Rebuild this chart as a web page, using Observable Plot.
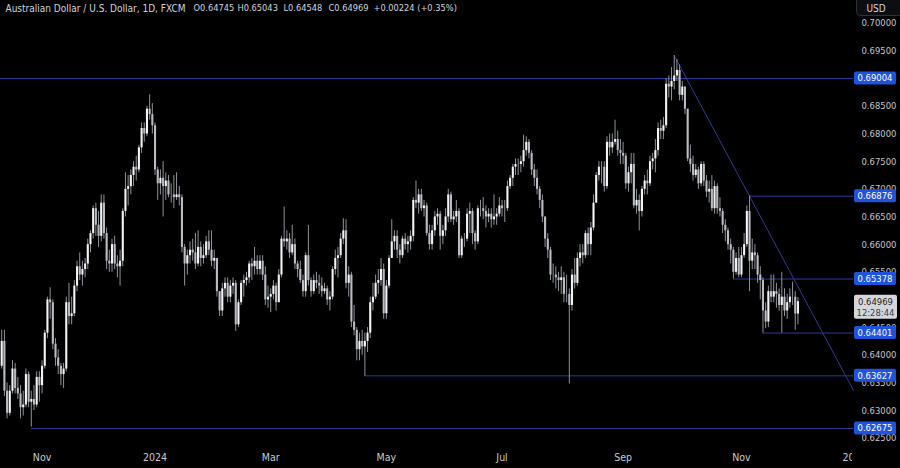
<!DOCTYPE html>
<html><head><meta charset="utf-8">
<script src="https://cdn.jsdelivr.net/npm/d3@7"></script>
<script src="https://cdn.jsdelivr.net/npm/@observablehq/plot@0.6"></script>
<style>
html,body{margin:0;padding:0;background:#000;}
#chart{width:900px;height:468px;overflow:hidden;}
</style></head><body><div id="chart"></div>
<script>
// ---- data (AUD/USD daily, FXCM) ----
const symbolName = "Australian Dollar / U.S. Dollar, 1D, FXCM";
const firstDate = "2023-10-11";
const firstOpen = 0.6380;
const closes = [
0.6425,0.6335,0.6295,0.6335,0.6375,0.6340,0.6330,0.6305,0.6310,0.6365,
0.6315,0.6320,0.6310,0.6360,0.6345,0.6380,0.6440,0.6500,0.6495,0.6420,
0.6395,0.6380,0.6365,0.6375,0.6495,0.6470,0.6475,0.6525,0.6560,0.6545,
0.6555,0.6565,0.6600,0.6620,0.6665,0.6635,0.6615,0.6675,0.6620,0.6570,
0.6565,0.6600,0.6565,0.6560,0.6570,0.6660,0.6700,0.6705,0.6725,0.6740,
0.6735,0.6775,0.6810,0.6800,0.6845,0.6835,0.6815,0.6735,0.6710,0.6720,
0.6705,0.6715,0.6690,0.6690,0.6685,0.6690,0.6685,0.6595,0.6565,0.6580,
0.6590,0.6585,0.6565,0.6595,0.6575,0.6580,0.6605,0.6590,0.6570,0.6575,
0.6515,0.6480,0.6520,0.6530,0.6505,0.6525,0.6530,0.6455,0.6495,0.6530,
0.6535,0.6540,0.6565,0.6560,0.6570,0.6555,0.6570,0.6545,0.6500,0.6505,
0.6510,0.6525,0.6495,0.6545,0.6610,0.6605,0.6610,0.6585,0.6600,0.6565,
0.6555,0.6535,0.6515,0.6580,0.6535,0.6515,0.6535,0.6530,0.6525,0.6515,
0.6520,0.6500,0.6505,0.6555,0.6575,0.6580,0.6610,0.6625,0.6530,0.6545,
0.6460,0.6445,0.6410,0.6425,0.6415,0.6425,0.6440,0.6495,0.6505,0.6530,
0.6535,0.6555,0.6475,0.6525,0.6575,0.6605,0.6615,0.6590,0.6580,0.6610,
0.6600,0.6605,0.6615,0.6680,0.6675,0.6690,0.6665,0.6670,0.6620,0.6600,
0.6625,0.6650,0.6655,0.6615,0.6625,0.6650,0.6690,0.6645,0.6650,0.6660,
0.6580,0.6610,0.6610,0.6655,0.6660,0.6620,0.6605,0.6665,0.6665,0.6660,
0.6650,0.6655,0.6645,0.6650,0.6655,0.6670,0.6665,0.6665,0.6705,0.6720,
0.6740,0.6745,0.6745,0.6750,0.6770,0.6785,0.6765,0.6735,0.6720,0.6700,
0.6680,0.6650,0.6610,0.6590,0.6545,0.6545,0.6540,0.6535,0.6540,0.6510,
0.6510,0.6490,0.6545,0.6530,0.6575,0.6585,0.6580,0.6620,0.6600,0.6630,
0.6675,0.6725,0.6740,0.6740,0.6705,0.6785,0.6775,0.6785,0.6790,0.6770,
0.6765,0.6760,0.6710,0.6730,0.6745,0.6670,0.6680,0.6660,0.6700,0.6715,
0.6710,0.6750,0.6755,0.6770,0.6810,0.6805,0.6815,0.6890,0.6885,0.6895,
0.6905,0.6915,0.6870,0.6885,0.6845,0.6755,0.6745,0.6725,0.6735,0.6710,
0.6745,0.6715,0.6695,0.6700,0.6665,0.6705,0.6665,0.6660,0.6635,0.6625,
0.6600,0.6590,0.6550,0.6575,0.6545,0.6580,0.6600,0.6660,0.6570,0.6585,
0.6580,0.6545,0.6535,0.6480,0.6460,0.6515,0.6505,0.6515,0.6510,0.6490,
0.6505,0.6480,0.6495,0.6505,0.6505,0.64745,0.64969];
const highs = [
0.6445,0.6445,0.6350,0.6345,0.6390,0.6385,0.6360,0.6345,0.6335,0.6375,
0.6370,0.6335,0.6345,0.6370,0.6370,0.6390,0.6445,0.6505,0.6522,0.6500,
0.6430,0.6410,0.6385,0.6385,0.6505,0.6530,0.6505,0.6535,0.6570,0.6585,
0.6570,0.6575,0.6610,0.6625,0.6670,0.6675,0.6660,0.6690,0.6690,0.6630,
0.6590,0.6610,0.6615,0.6580,0.6590,0.6665,0.6730,0.6725,0.6735,0.6750,
0.6760,0.6780,0.6820,0.6820,0.6850,0.6871,0.6855,0.6820,0.6740,0.6735,
0.6750,0.6730,0.6725,0.6710,0.6725,0.6730,0.6705,0.6690,0.6600,0.6590,
0.6605,0.6610,0.6620,0.6625,0.6605,0.6600,0.6615,0.6625,0.6625,0.6590,
0.6575,0.6515,0.6530,0.6540,0.6540,0.6535,0.6540,0.6535,0.6500,0.6535,
0.6545,0.6550,0.6570,0.6575,0.6595,0.6580,0.6580,0.6580,0.6560,0.6525,
0.6520,0.6535,0.6530,0.6555,0.6615,0.6668,0.6625,0.6620,0.6635,0.6610,
0.6570,0.6570,0.6545,0.6585,0.6635,0.6540,0.6545,0.6550,0.6545,0.6540,
0.6530,0.6525,0.6515,0.6560,0.6590,0.6595,0.6620,0.6647,0.6645,0.6560,
0.6550,0.6490,0.6450,0.6440,0.6445,0.6440,0.6450,0.6505,0.6530,0.6545,
0.6555,0.6575,0.6565,0.6535,0.6580,0.6645,0.6625,0.6625,0.6600,0.6615,
0.6620,0.6615,0.6625,0.6685,0.6715,0.6700,0.6700,0.6680,0.6675,0.6635,
0.6635,0.6660,0.6665,0.6660,0.6635,0.6665,0.6700,0.6695,0.6660,0.6680,
0.6665,0.6615,0.6620,0.6665,0.6675,0.6665,0.6625,0.6670,0.6680,0.6685,
0.6670,0.6665,0.6665,0.6690,0.6665,0.6685,0.6680,0.6680,0.6715,0.6725,
0.6745,0.6755,0.6755,0.6760,0.6798,0.6795,0.6790,0.6770,0.6745,0.6735,
0.6705,0.6690,0.6650,0.6620,0.6595,0.6565,0.6560,0.6550,0.6560,0.6550,
0.6545,0.6520,0.6555,0.6575,0.6585,0.6600,0.6600,0.6625,0.6630,0.6640,
0.6690,0.6730,0.6750,0.6750,0.6750,0.6795,0.6800,0.6800,0.6825,0.6805,
0.6790,0.6785,0.6765,0.6740,0.6765,0.6765,0.6700,0.6690,0.6705,0.6725,
0.6735,0.6760,0.6765,0.6790,0.6820,0.6825,0.6830,0.6900,0.6905,0.6920,
0.6942,0.6935,0.6925,0.6895,0.6885,0.6845,0.6780,0.6760,0.6745,0.6740,
0.6750,0.6750,0.6725,0.6715,0.6725,0.6715,0.6710,0.6685,0.6665,0.6645,
0.6630,0.6610,0.6595,0.6585,0.6595,0.6595,0.6620,0.6670,0.6688,0.6610,
0.6600,0.6585,0.6560,0.6540,0.6495,0.6525,0.6545,0.6545,0.6530,0.6520,
0.6550,0.6520,0.6510,0.6520,0.6532,0.6515,0.65043];
const lows = [
0.6375,0.6325,0.6285,0.6290,0.6330,0.6330,0.6320,0.6285,0.6290,0.6305,
0.6305,0.6270,0.6300,0.6305,0.6315,0.6330,0.6375,0.6430,0.6465,0.6410,
0.6380,0.6365,0.6345,0.6340,0.6370,0.6455,0.6455,0.6470,0.6515,0.6535,
0.6525,0.6540,0.6555,0.6585,0.6610,0.6615,0.6595,0.6605,0.6610,0.6555,
0.6550,0.6550,0.6555,0.6540,0.6525,0.6560,0.6650,0.6670,0.6690,0.6705,
0.6715,0.6730,0.6765,0.6785,0.6795,0.6825,0.6800,0.6725,0.6680,0.6690,
0.6650,0.6680,0.6685,0.6675,0.6665,0.6680,0.6670,0.6585,0.6525,0.6545,
0.6565,0.6570,0.6555,0.6560,0.6560,0.6565,0.6575,0.6580,0.6560,0.6555,
0.6505,0.6470,0.6470,0.6505,0.6495,0.6495,0.6510,0.6443,0.6450,0.6490,
0.6505,0.6525,0.6530,0.6535,0.6545,0.6545,0.6545,0.6535,0.6490,0.6485,
0.6477,0.6500,0.6480,0.6495,0.6540,0.6595,0.6590,0.6575,0.6580,0.6555,
0.6540,0.6530,0.6505,0.6505,0.6525,0.6505,0.6510,0.6520,0.6510,0.6505,
0.6510,0.6490,0.6480,0.6500,0.6545,0.6540,0.6575,0.6600,0.6520,0.6505,
0.6450,0.6435,0.6390,0.6390,0.6400,0.6362,0.6405,0.6430,0.6480,0.6500,
0.6510,0.6525,0.6465,0.6465,0.6520,0.6575,0.6590,0.6575,0.6565,0.6575,
0.6590,0.6585,0.6590,0.6605,0.6665,0.6655,0.6660,0.6650,0.6615,0.6590,
0.6590,0.6615,0.6635,0.6590,0.6600,0.6615,0.6640,0.6640,0.6635,0.6640,
0.6575,0.6575,0.6595,0.6605,0.6620,0.6600,0.6590,0.6600,0.6650,0.6645,
0.6630,0.6640,0.6630,0.6635,0.6635,0.6650,0.6650,0.6640,0.6660,0.6700,
0.6705,0.6725,0.6725,0.6730,0.6740,0.6760,0.6755,0.6725,0.6705,0.6690,
0.6665,0.6640,0.6595,0.6575,0.6535,0.6530,0.6520,0.6515,0.6510,0.6495,
0.6495,0.6348,0.6480,0.6520,0.6525,0.6560,0.6565,0.6575,0.6580,0.6580,
0.6625,0.6675,0.6715,0.6710,0.6695,0.6700,0.6760,0.6765,0.6780,0.6760,
0.6745,0.6745,0.6700,0.6695,0.6710,0.6665,0.6655,0.6625,0.6650,0.6690,
0.6690,0.6705,0.6735,0.6730,0.6760,0.6790,0.6790,0.6810,0.6865,0.6860,
0.6880,0.6895,0.6860,0.6860,0.6835,0.6750,0.6730,0.6715,0.6720,0.6700,
0.6705,0.6705,0.6685,0.6675,0.6660,0.6655,0.6655,0.6650,0.6620,0.6605,
0.6590,0.6565,0.6538,0.6545,0.6540,0.6540,0.6575,0.6595,0.6515,0.6555,
0.6555,0.6530,0.6500,0.6440,0.6448,0.6450,0.6495,0.6495,0.6485,0.6480,
0.6440,0.6470,0.6465,0.6485,0.6490,0.6445,0.64548];

// horizontal levels drawn on the chart and the bar where each one starts
const levels    = [0.69004, 0.66876, 0.65378, 0.64401, 0.63627, 0.62675];
const levelFrom = [null, "2024-11-06", "2024-10-29", "2024-11-13", "2024-04-19", "2023-10-26"];
// descending trend line: anchored on the Sep 27 high, through the Nov 6 high
const trendDates  = ["2024-09-27", "2024-11-06"];
const trendValues = [0.6942, 0.66876];
// axes
const yTicks = [0.625,0.630,0.635,0.640,0.645,0.650,0.655,0.660,0.665,0.670,0.675,0.680,0.685,0.690,0.695,0.700];
const monthTickDates  = ["2023-11-01","2024-01-02","2024-03-01","2024-05-01","2024-07-01","2024-09-02","2024-11-01","2025-01-02"];
const monthTickLabels = ["Nov","2024","Mar","May","Jul","Sep","Nov","2025"];
const countdown = "12:28:44";

// ---- build table: trading days (weekdays, no Dec 25 / Jan 1) ----
function tradingDays(start, n) {
  const out = []; const d = new Date(start + "T00:00:00Z");
  while (out.length < n) {
    const wd = d.getUTCDay(), m = d.getUTCMonth(), dd = d.getUTCDate();
    const holiday = (m === 11 && dd === 25) || (m === 0 && dd === 1);
    if (wd !== 0 && wd !== 6 && !holiday) out.push(d.toISOString().slice(0, 10));
    d.setUTCDate(dd + 1);
  }
  return out;
}
const calendar = tradingDays(firstDate, 340);
const idx = new Map(calendar.map((s, i) => [s, i]));
const bars = closes.map((c, i) => ({
  i, date: calendar[i],
  open: i === 0 ? firstOpen : closes[i - 1],
  close: c, high: highs[i], low: lows[i]
}));
const last = bars[bars.length - 1];

const W = 900, H = 468, MR = 47, MB = 28;
const xMin = -0.45, xMax = 316.65;
const LINE = "#2f3a98", WICK = "#8f9299", UP = "#f2f3f5", DOWN = "#b9bcc3";
const FONT = "'Liberation Sans Narrow','DejaVu Sans Condensed','Liberation Sans',Arial,sans-serif";
const AX = 9.4;

const levelRows = levels.map((v, k) => ({v, from: levelFrom[k] ? idx.get(levelFrom[k]) : xMin}));
const t0 = idx.get(trendDates[0]), t1 = idx.get(trendDates[1]);
const slope = (trendValues[1] - trendValues[0]) / (t1 - t0);
const trendRows = [{i: t0, v: trendValues[0]}, {i: xMax, v: trendValues[0] + slope * (xMax - t0)}];
const tickRows = monthTickDates.map((d, k) => ({i: idx.get(d), label: monthTickLabels[k]}));

const f5 = d3.format(".5f");
const change = last.close - last.open;
const pct = change / last.open * 100;
const sign = change >= 0 ? "+" : "\u2212";
const titleParts = [
  {t: symbolName, dx: 5, size: 10},
  {t: "O" + f5(last.open), dx: 193, size: 9.2},
  {t: "H" + f5(last.high), dx: 237, size: 9.2},
  {t: "L" + f5(last.low), dx: 283, size: 9.2},
  {t: "C" + f5(last.close), dx: 328, size: 9.2},
  {t: sign + f5(Math.abs(change)) + " (" + sign + Math.abs(pct).toFixed(2) + "%)", dx: 373, size: 9.2}
];

const chart = Plot.plot({
  width: W, height: H,
  marginTop: 0, marginRight: MR, marginBottom: MB, marginLeft: 0,
  style: {background: "#000", color: "#b2b5be", fontFamily: FONT, fontSize: "10px"},
  x: {type: "linear", domain: [xMin, xMax], axis: null},
  y: {domain: [0.62458, 0.70415], axis: null},
  marks: [
    Plot.ruleY(levelRows, {y: "v", x1: "from", x2: () => xMax, stroke: LINE, strokeWidth: 1}),
    Plot.line(trendRows, {x: "i", y: "v", stroke: LINE, strokeWidth: 1}),
    Plot.ruleX(bars, {x: "i", y1: "low", y2: "high", stroke: WICK, strokeWidth: 1}),
    Plot.ruleX(bars, {x: "i", y1: "open", y2: "close", stroke: d => d.close >= d.open ? UP : DOWN, strokeWidth: 2.1}),
    Plot.axisY({anchor: "right", ticks: yTicks, tickFormat: f5, tickSize: 0, tickPadding: 8, fontSize: AX, fill: "#c3c6cd", label: null}),
    Plot.text(tickRows, {x: "i", text: "label", frameAnchor: "bottom", dy: 20, fill: "#c7cad1", fontSize: 10.5,
      fontWeight: d => /^\d{4}$/.test(d.label) ? "bold" : "normal"}),
    ...titleParts.map(p => Plot.text([p.t], {frameAnchor: "top-left", dx: p.dx, dy: 8, text: d => d,
      textAnchor: "start", lineAnchor: "middle", fill: "#d1d4dc", fontSize: p.size}))
  ]
});
document.getElementById("chart").appendChild(chart);

// ---- price-scale overlays (tags), positioned with the plot's own y scale ----
const ys = chart.scale("y");
const yOf = ys.apply ? (v => ys.apply(v)) : d3.scaleLinear(ys.domain, ys.range);
const svg = d3.select(chart);
const g = svg.append("g").attr("font-family", FONT).attr("font-size", AX);
// price-scale panel hides the time labels that run past the chart
g.append("rect").attr("x", W - MR - 1).attr("y", H - MB + 1).attr("width", MR + 1).attr("height", MB).attr("fill", "#000");
// USD button
g.append("rect").attr("x", W - MR - 1).attr("y", 0).attr("width", MR + 1).attr("height", 19).attr("fill", "#000");
g.append("rect").attr("x", 856.5).attr("y", -4.5).attr("width", 46).attr("height", 20).attr("rx", 4)
  .attr("fill", "#0d0e12").attr("stroke", "#2e3139");
g.append("text").attr("x", 876).attr("y", 8).attr("dy", "0.35em").attr("text-anchor", "middle")
  .attr("fill", "#d1d4dc").attr("font-size", 10).text("USD");
// level tags
for (const v of levels) {
  const y = yOf(v);
  g.append("rect").attr("x", 854).attr("y", y - 6.5).attr("width", 42).attr("height", 13).attr("rx", 2).attr("fill", "#1f52dd");
  g.append("text").attr("x", 875).attr("y", y).attr("dy", "0.36em").attr("text-anchor", "middle").attr("fill", "#ffffff").text(f5(v));
}
// last price + countdown tag
{
  const y = yOf(last.close);
  g.append("rect").attr("x", 854).attr("y", y - 6.5).attr("width", 43).attr("height", 24).attr("rx", 2).attr("fill", "#d4d6dc");
  g.append("text").attr("x", 875.5).attr("y", y).attr("dy", "0.36em").attr("text-anchor", "middle").attr("fill", "#1c1d22").text(f5(last.close));
  g.append("text").attr("x", 875.5).attr("y", y + 11).attr("dy", "0.36em").attr("text-anchor", "middle").attr("fill", "#3a3c44").text(countdown);
}
</script>
</body></html>
